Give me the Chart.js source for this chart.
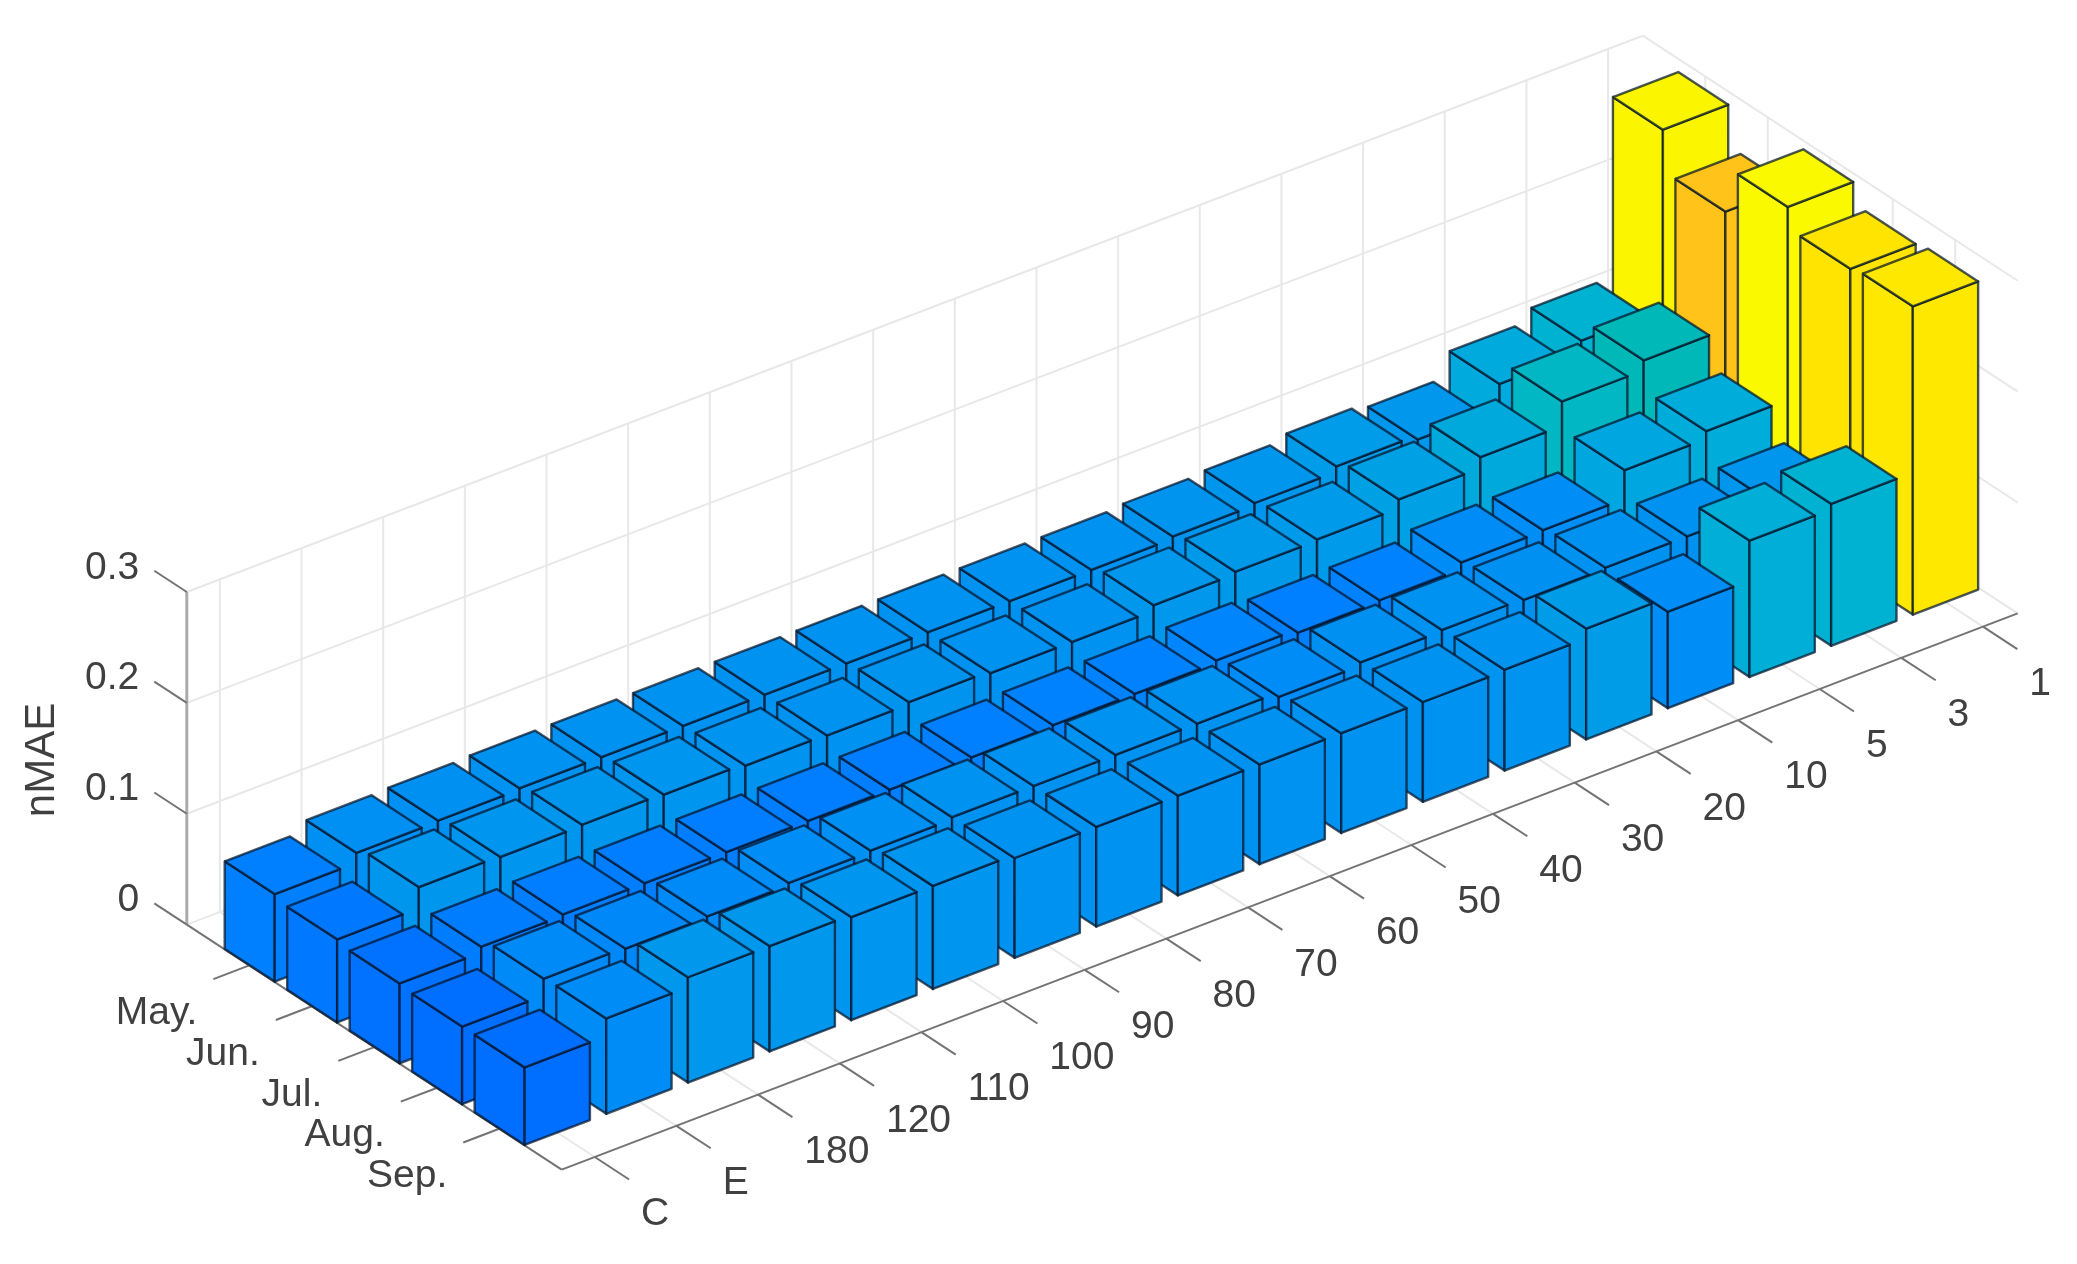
<!DOCTYPE html>
<html>
<head>
<meta charset="utf-8">
<title>nMAE</title>
<script src="https://cdn.jsdelivr.net/npm/chart.js@4"></script>
<style>
  html, body { margin: 0; padding: 0; background: #fff; }
  canvas { display: block; filter: blur(0.7px); }
</style>
</head>
<body>
<canvas id="Grafica" width="2077" height="1264"></canvas>
<script>
const categories = ['C', 'E', '180', '120', '110', '100', '90', '80', '70', '60', '50', '40', '30', '20', '10', '5', '3', '1'];
const months = ['May.', 'Jun.', 'Jul.', 'Aug.', 'Sep.'];
const zTicks = [0, 0.1, 0.2, 0.3];

// one value per category, same order as categories
const mayValues = [0.079, 0.088, 0.089, 0.09, 0.09, 0.09, 0.09, 0.09, 0.09, 0.09, 0.09, 0.092, 0.094, 0.099, 0.095, 0.117, 0.128, 0.29];
const junValues = [0.075, 0.094, 0.093, 0.094, 0.093, 0.091, 0.09, 0.092, 0.09, 0.09, 0.095, 0.097, 0.098, 0.106, 0.116, 0.138, 0.147, 0.253];
const julValues = [0.072, 0.077, 0.078, 0.078, 0.078, 0.078, 0.078, 0.079, 0.08, 0.08, 0.082, 0.079, 0.08, 0.086, 0.087, 0.113, 0.12, 0.294];
const augValues = [0.07, 0.085, 0.084, 0.085, 0.087, 0.088, 0.09, 0.09, 0.09, 0.09, 0.086, 0.089, 0.09, 0.089, 0.09, 0.09, 0.094, 0.275];
const sepValues = [0.07, 0.086, 0.095, 0.095, 0.093, 0.093, 0.09, 0.09, 0.09, 0.09, 0.09, 0.09, 0.091, 0.1, 0.087, 0.123, 0.128, 0.278];
const series = [mayValues, junValues, julValues, augValues, sepValues];

// colormap stops, value -> rgb
const colorStops = [
  [0.07, [0, 110, 255]],
  [0.08, [0, 130, 255]],
  [0.09, [0, 146, 240]],
  [0.10, [0, 156, 232]],
  [0.125, [0, 176, 214]],
  [0.14, [0, 184, 192]],
  [0.15, [0, 184, 180]],
  [0.25, [255, 190, 30]],
  [0.272, [255, 225, 0]],
  [0.295, [250, 250, 0]]
];

// axes box of the view
const ORIGIN = [186.8, 924.6];
const EX = [81.66, -31.2];
const EY = [62.48, 40.84];
const EZ = -1108.7;
const FIRST_TICK = 0.405;
const X_RANGE = 17.83;
const Y_RANGE = 6;
const Z_MAX = 0.3;
const HALF = 0.4;

function project (u, v, z) {
  return {
    x: ORIGIN[0] + u * EX[0] + v * EY[0],
    y: ORIGIN[1] + u * EX[1] + v * EY[1] + z * EZ
  };
}

function valueColor (val) {
  if (val <= colorStops[0][0]) return `rgb(${colorStops[0][1].join(',')})`;
  for (let i = 1; i < colorStops.length; i++) {
    if (val <= colorStops[i][0]) {
      const [v0, c0] = colorStops[i - 1];
      const [v1, c1] = colorStops[i];
      const t = (val - v0) / (v1 - v0);
      return `rgb(${c0.map((c, n) => Math.round(c + (c1[n] - c) * t)).join(',')})`;
    }
  }
  return `rgb(${colorStops[colorStops.length - 1][1].join(',')})`;
}

const datasets = [];

function addLine (points, color, width) {
  datasets.push({
    data: points,
    showLine: true,
    borderColor: color,
    borderWidth: width,
    pointRadius: 0,
    fill: false,
    tension: 0
  });
}

function addFace (points, color) {
  datasets.push({
    data: points.concat([points[0]]),
    showLine: true,
    borderColor: 'rgba(0,20,40,0.72)',
    borderWidth: 2.4,
    borderJoinStyle: 'round',
    backgroundColor: color,
    pointRadius: 0,
    fill: 'shape',
    tension: 0
  });
}

const GRID = '#e8e8e8';
const AXIS = '#737373';

// back walls and floor
categories.forEach((c, k) => {
  const u = FIRST_TICK + k;
  addLine([project(u, 0, 0), project(u, 0, Z_MAX)], GRID, 2);
  addLine([project(u, 0, 0), project(u, Y_RANGE, 0)], GRID, 2);
});
months.forEach((m, i) => {
  addLine([project(X_RANGE, i + 1, 0), project(X_RANGE, i + 1, Z_MAX)], GRID, 2);
  addLine([project(0, i + 1, 0), project(X_RANGE, i + 1, 0)], GRID, 2);
});
zTicks.forEach(z => {
  addLine([project(0, 0, z), project(X_RANGE, 0, z)], GRID, 2);
  addLine([project(X_RANGE, 0, z), project(X_RANGE, Y_RANGE, z)], GRID, 2);
});

// axis lines and ticks
addLine([project(0, 0, 0), project(0, 0, Z_MAX)], '#ababab', 3);
addLine([project(0, 0, 0), project(0, Y_RANGE, 0)], AXIS, 2);
addLine([project(0, Y_RANGE, 0), project(X_RANGE, Y_RANGE, 0)], AXIS, 2);
categories.forEach((c, k) => {
  addLine([project(FIRST_TICK + k, Y_RANGE, 0), project(FIRST_TICK + k, Y_RANGE + 0.55, 0)], AXIS, 2);
});
months.forEach((m, i) => {
  addLine([project(0, i + 1, 0), project(-0.44, i + 1, 0)], AXIS, 2);
});
zTicks.forEach(z => {
  addLine([project(0, 0, z), project(0, -0.52, z)], AXIS, 2);
});

// bars, far ones first
series.forEach((values, i) => {
  for (let k = categories.length - 1; k >= 0; k--) {
    const u0 = FIRST_TICK + k - HALF;
    const u1 = FIRST_TICK + k + HALF;
    const v0 = i + 1 - HALF;
    const v1 = i + 1 + HALF;
    const z = values[k];
    const color = valueColor(z);
    addFace([project(u0, v0, 0), project(u0, v1, 0), project(u0, v1, z), project(u0, v0, z)], color);
    addFace([project(u0, v1, 0), project(u1, v1, 0), project(u1, v1, z), project(u0, v1, z)], color);
    addFace([project(u0, v0, z), project(u0, v1, z), project(u1, v1, z), project(u1, v0, z)], color);
  }
});

// later datasets have to land on top
datasets.forEach((d, i) => { d.order = datasets.length - i; });

const axisText = {
  id: 'axisText',
  afterDatasetsDraw (chart) {
    const { ctx, scales } = chart;
    const put = (text, p, dx, dy, align) => {
      ctx.textAlign = align;
      ctx.fillText(text, scales.x.getPixelForValue(p.x) + dx, scales.y.getPixelForValue(p.y) + dy);
    };
    ctx.save();
    ctx.fillStyle = '#404040';
    ctx.textBaseline = 'middle';
    ctx.font = '39px "Liberation Sans"';
    categories.forEach((c, k) => put(c, project(FIRST_TICK + k, Y_RANGE + 0.5, 0), 15, 37, 'left'));
    months.forEach((m, i) => put(m, project(-0.44, i + 1, 0), -16, 34, 'right'));
    zTicks.forEach(z => put(String(z), project(0, -0.52, z), -15, -3, 'right'));
    ctx.translate(42, 760);
    ctx.rotate(-Math.PI / 2);
    ctx.font = '42px "Liberation Sans"';
    ctx.textAlign = 'center';
    ctx.fillText('nMAE', 0, 0);
    ctx.restore();
  }
};

const config = {
  type: 'scatter',
  data: { datasets: datasets },
  plugins: [axisText],
  options: {
    responsive: false,
    devicePixelRatio: 1,
    animation: false,
    events: [],
    layout: { padding: 0 },
    scales: {
      x: { type: 'linear', display: false, min: 0, max: 2077 },
      y: { type: 'linear', display: false, min: 0, max: 1264, reverse: true }
    },
    plugins: {
      legend: { display: false },
      tooltip: { enabled: false },
      filler: { drawTime: 'beforeDatasetDraw' }
    }
  }
};

const chart = new Chart(document.getElementById('Grafica'), config);
</script>
</body>
</html>
